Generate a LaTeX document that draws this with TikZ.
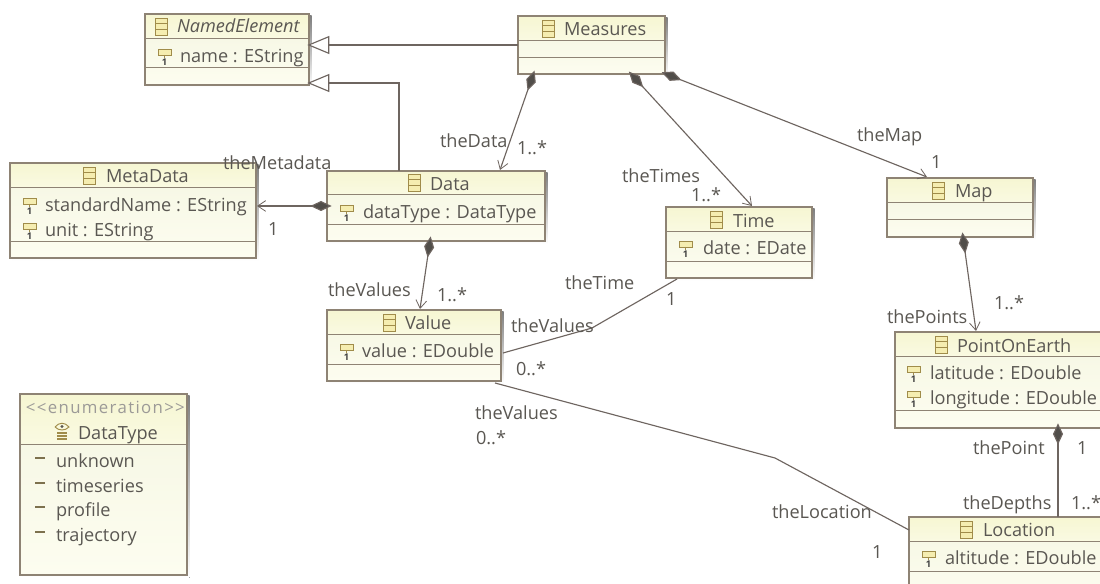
\documentclass[tikz,border=0pt]{standalone}
\usepackage{fontspec}
\setmainfont{Open Sans}
\usetikzlibrary{arrows.meta,calc}
\definecolor{ink}{HTML}{5A5752}
\definecolor{edge}{HTML}{8E8374}
\definecolor{wire}{HTML}{6E6560}
\definecolor{hdtop}{HTML}{F6F6D2}
\definecolor{hdbot}{HTML}{FAFAE2}
\definecolor{bodytop}{HTML}{F7F8E6}
\definecolor{bodybot}{HTML}{FDFDF0}
\definecolor{icony}{HTML}{F5EDB0}
\definecolor{iconb}{HTML}{A08C4A}
\definecolor{shade}{HTML}{E2E0DA}
\tikzset{
  classbox/.style={draw=edge,line width=0.85pt,anchor=north west,inner sep=0pt,outer sep=0pt},
  txt/.style={anchor=base west,inner sep=0pt,outer sep=0pt,text=ink,font=\fontsize{13.6pt}{15pt}\selectfont},
  one/.style={anchor=center,inner sep=0pt,outer sep=0pt,text=black!75,font=\fontsize{7pt}{7pt}\selectfont\bfseries},
  wirel/.style={draw=wire,line width=0.85pt},
  comp/.style={wirel,shorten <=-3.5pt,{Diamond[length=16pt,width=7.5pt,fill=ink!90!black]}-{Straight Barb[length=6pt,width=8pt,line width=0.6pt]}},
  compn/.style={wirel,shorten <=-3.5pt,{Diamond[length=16pt,width=7.5pt,fill=ink!90!black]}-},
  gen/.style={wirel,shorten <=-2pt,{Triangle[open,length=16.5pt,width=13.5pt,fill=white]}-},
  compart/.style={draw=edge,line width=0.75pt},
  iconshape/.style={draw=iconb,fill=icony,line width=0.6pt}
}
% name x1 y1 x2 y2 line1 line2
\newcommand\umlbox[7]{%
  \fill[shade] (#2+2,#3+2) rectangle (#4+2.5,#5+2.5);
  \shade[top color=hdtop,bottom color=hdbot] (#2,#3) rectangle (#4,#6);
  \shade[top color=bodytop,bottom color=bodybot] (#2,#6) rectangle (#4,#5);
  \draw[compart] (#2,#6) -- (#4,#6) (#2,#7) -- (#4,#7);
  \node[classbox,minimum width={(#4-#2)*0.75pt},minimum height={(#5-#3)*0.75pt}] (#1) at (#2,#3) {};
}
\newcommand\clsicon[2]{%
  \draw[iconshape] (#1,#2) rectangle (#1+12.5,#2+17);
  \draw[iconb,line width=0.6pt] (#1,#2+5.7) -- (#1+12.5,#2+5.7) (#1,#2+11.3) -- (#1+12.5,#2+11.3);
}
% name x y text : text with baseline near y
\newcommand\lab[4]{\node[txt] (#1) at (#2,#3+6.5) {#4};}
% attribute: name iconx y text textx
\newcommand\attr[5]{%
  \draw[iconshape] (#2,#3-7) rectangle (#2+13,#3-1);
  \draw[iconb,line width=0.6pt] (#2+6.5,#3-1) -- (#2+6.5,#3+2);
  \node[one] (#1-one) at (#2+6.5,#3+6) {1};
  \node[txt] (#1) at (#5,#3+6.5) {#4};
}
\begin{document}
\begin{tikzpicture}[x=0.75pt,y=-0.75pt]
\clip (0,0) rectangle (1100,584);
\fill[white] (0,0) rectangle (1100,584);

\umlbox{named}{145}{14}{309}{85}{39}{68}
\umlbox{measures}{518}{16}{665}{74}{41}{58}
\umlbox{meta}{10}{163}{256}{258}{188}{242}
\umlbox{data}{327}{171}{545}{241}{195}{225}
\umlbox{time}{666}{207}{812}{278}{232}{262}
\umlbox{map}{887}{178}{1033}{237}{203}{220}
\umlbox{value}{327}{310}{501}{381}{335}{365}
\umlbox{poe}{895}{332}{1110}{428}{357}{411}
\umlbox{loc}{909}{517}{1110}{600}{541}{571}
\umlbox{dtype}{20}{394}{187}{575}{445}{445}

% connectors
\draw[gen] ($(named.south east)+(1,-40)$) -- ($(measures.north west)+(0,29)$);
\draw[gen] ($(named.south east)+(1,-2)$) -| ($(data.north west)+(72,0)$);
\draw[comp] ($(data.north west)+(0,35)$) -- ($(meta.north east)+(1,43)$);
\draw[comp] ($(measures.south west)+(15,1)$) -- ($(data.north east)+(-45,-1)$);
\draw[comp] ($(measures.south east)+(-33,1)$) -- ($(time.north west)+(86,-1)$);
\draw[comp] ($(measures.south east)+(1,0)$) -- ($(map.north west)+(40,-1)$);
\draw[comp] ($(data.south west)+(103,0)$) -- ($(value.north west)+(93,-1)$);
\draw[comp] ($(map.south west)+(76,0)$) -- ($(poe.north west)+(81,-1)$);
\draw[compn] ($(poe.south west)+(163,0)$) -- ($(loc.north west)+(149,0)$);
\coordinate (bendT) at (592,328);
\coordinate (bendL) at (775,458);
\draw[wirel] ($(value.north east)+(2,43)$) -- (bendT) -- ($(time.south west)+(11,1)$);
\draw[wirel] ($(value.south east)+(-6,2)$) -- (bendL) -- ($(loc.north west)+(0,13)$);

% class titles
\clsicon{155}{18}
\node[txt,font=\fontsize{13.6pt}{15pt}\selectfont\itshape] (tNamed) at (177,33) {NamedElement};
\attr{aName}{158}{56}{name : EString}{180}
\clsicon{542}{20}
\lab{tMeasures}{564}{29}{Measures}
\clsicon{83}{167}
\lab{tMeta}{106}{176}{MetaData}
\attr{aStd}{23}{205}{standardName : EString}{45}
\attr{aUnit}{23}{230}{unit : EString}{45}
\clsicon{408}{174}
\lab{tData}{430}{184}{Data}
\attr{aType}{340}{212}{dataType : DataType}{363}
\clsicon{710}{211}
\lab{tTime}{733}{221}{Time}
\attr{aDate}{679}{248}{date : EDate}{703}
\clsicon{932}{182}
\lab{tMap}{955}{191}{Map}
\clsicon{383}{314}
\lab{tValue}{405}{323}{Value}
\attr{aValue}{340}{351}{value : EDouble}{362}
\clsicon{935}{336}
\lab{tPoe}{957}{346}{PointOnEarth}
\attr{aLat}{907}{373}{latitude : EDouble}{930}
\attr{aLon}{907}{398}{longitude : EDouble}{930}
\clsicon{960}{521}
\lab{tLoc}{983}{530}{Location}
\attr{aAlt}{922}{558}{altitude : EDouble}{945}

% enumeration
\node[txt,text=ink!60,font=\fontsize{12.6pt}{15pt}\selectfont] (tStereo) at (26,414) {\addfontfeature{LetterSpace=8}{<}{<}enumeration{>}{>}};
\draw[iconb,line width=0.7pt] (55,427) .. controls (59,422) and (65,422) .. (69,427) .. controls (65,431) and (59,431) .. (55,427);
\fill[ink] (62,426.5) circle (1.6);
\draw[iconb,line width=0.9pt] (57,433) -- (67,433) (57,436) -- (67,436) (57,439) -- (67,439);
\lab{tDtype}{78}{433}{DataType}
\foreach \nm/\yy/\tx in {eUnk/461/unknown,eTs/486/timeseries,ePro/510/profile,eTr/535/trajectory}{
  \draw[ink!50!iconb,line width=1.5pt] (35,\yy-3) -- (45,\yy-3);
  \lab{\nm}{56}{\yy}{\tx}
}

% role labels
\lab{lMeta}{223}{163}{theMetadata}
\lab{lMetaM}{268}{229}{1}
\lab{lData}{440}{141}{theData}
\lab{lDataM}{517}{148}{1..*}
\lab{lTimes}{622}{176}{theTimes}
\lab{lTimesM}{691}{195}{1..*}
\lab{lMap}{857}{135}{theMap}
\lab{lMapM}{931}{162}{1}
\lab{lVals}{328}{290}{theValues}
\lab{lValsM}{437}{295}{1..*}
\lab{lTime}{565}{283}{theTime}
\lab{lTimeM}{666}{299}{1}
\lab{lVals2}{511}{326}{theValues}
\lab{lVals2M}{516}{369}{0..*}
\lab{lVals3}{475}{413}{theValues}
\lab{lVals3M}{476}{438}{0..*}
\lab{lLoc}{772}{512}{theLocation}
\lab{lLocM}{872}{552}{1}
\lab{lPts}{887}{317}{thePoints}
\lab{lPtsM}{994}{303}{1..*}
\lab{lPt}{973}{448}{thePoint}
\lab{lPtM}{1077}{448}{1}
\lab{lDep}{963}{503}{theDepths}
\lab{lDepM}{1071}{503}{1..*}
\end{tikzpicture}
\end{document}
